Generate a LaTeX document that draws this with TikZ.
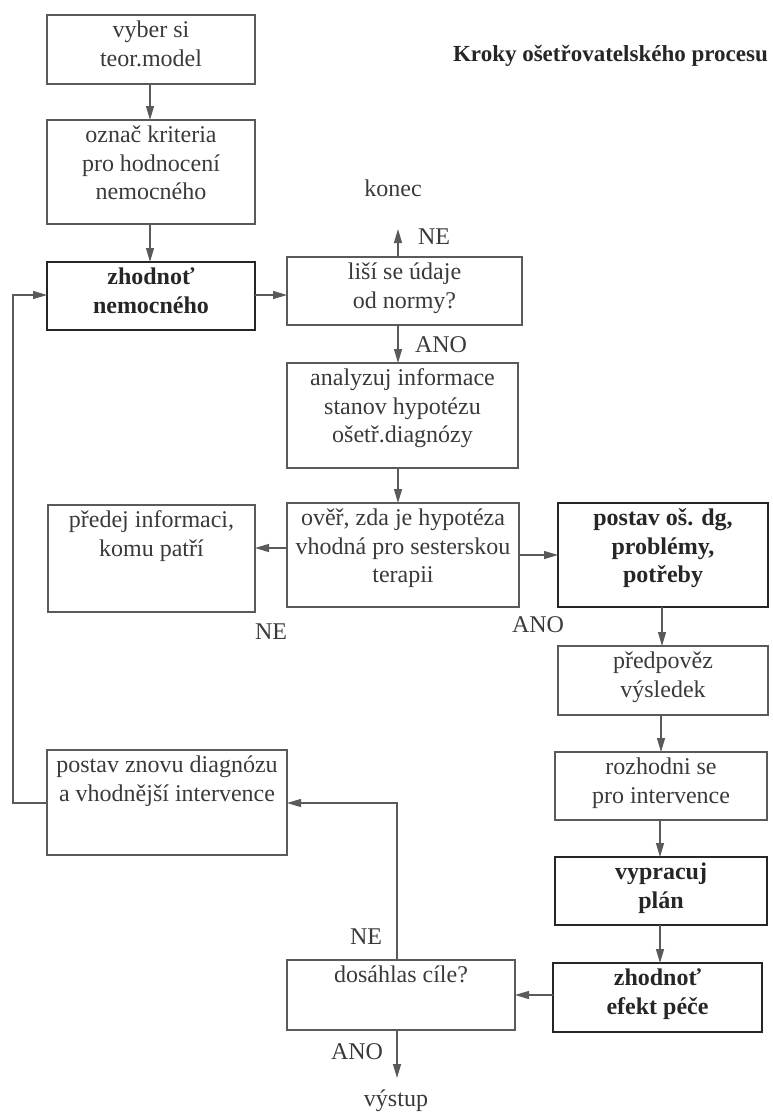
\documentclass[tikz,border=0pt]{standalone}
\usepackage{fontspec}
\setmainfont{Liberation Serif}
\usetikzlibrary{arrows.meta}
\definecolor{ink}{HTML}{3A3A3A}
\definecolor{frame}{HTML}{5A5A5A}
\tikzset{
  box/.style={draw=frame, line width=1.3pt, inner sep=0pt, outer sep=0pt, text=ink},
  boldbox/.style={draw=black!85, line width=2.6pt, inner sep=0pt, outer sep=0pt, text=black!85},
  flow/.style={draw=frame, line width=1.2pt, -{Triangle[length=14pt,width=8pt]}},
  lbl/.style={text=ink, inner sep=0pt}
}
% \bx{name}{x1}{y1}{x2}{y2}{style}{text}: box given by its corners, text at the top
\newcommand{\bx}[7]{%
  \pgfmathsetmacro{\bw}{#4-#2}\pgfmathsetmacro{\bh}{#5-#3}%
  \node[#6, anchor=north west, minimum width=\bw pt, minimum height=\bh pt] (#1) at (#2,#3)
    {\parbox[c][\bh pt][t]{\bw pt}{\vspace*{3pt}\centering\strut #7}};}
\begin{document}
\begin{tikzpicture}[x=1pt, y=-1pt, font=\fontsize{24}{28.5}\selectfont]
\useasboundingbox (0,0) rectangle (772,1117);

% boxes
\bx{b1}{47}{15}{255}{84}{box}{vyber si\\teor.model}
\bx{b2}{47}{120}{255}{224}{box}{označ kriteria\\pro hodnocení\\nemocného}
\bx{b3}{47}{262}{255}{330}{boldbox}{\bfseries zhodnoť\\nemocného}
\bx{b4}{287}{257}{522}{325}{box}{liší se údaje\\od normy?}
\bx{b5}{287}{363}{518}{468}{box}{analyzuj informace\\stanov hypotézu\\ošetř.diagnózy}
\bx{b6}{287}{503}{519}{607}{box}{ověř, zda je hypotéza\\vhodná pro sesterskou\\terapii}
\bx{b7}{48}{505}{255}{612}{box}{předej informaci,\\komu patří}
\bx{b8}{558}{503}{768}{607}{boldbox}{\bfseries postav oš. dg,\\problémy,\\potřeby}
\bx{b9}{558}{646}{768}{715}{box}{předpověz\\výsledek}
\bx{b10}{555}{752}{767}{820}{box}{rozhodni se\\pro intervence}
\bx{b11}{555}{857}{767}{925}{boldbox}{\bfseries vypracuj\\plán}
\bx{b12}{553}{963}{762}{1032}{boldbox}{\bfseries zhodnoť\\efekt péče}
\bx{b13}{287}{960}{515}{1030}{box}{dosáhlas cíle?}
\bx{b14}{47}{750}{287}{855}{box}{postav znovu diagnózu\\a vhodnější intervence}

% title and end texts
\node[lbl, anchor=east, font=\fontsize{23}{28}\selectfont\bfseries, text=black!85] (title) at (768,56) {Kroky ošetřovatelského procesu};
\node[lbl] (konec) at (393,188) {konec};
\node[lbl] (vystup) at (396,1101) {výstup};
\coordinate (kontip) at (398,229);
\coordinate (vyptip) at (397,1078);
\coordinate (loopA) at (13,803);
\coordinate (loopB) at (13,295);

% connectors
\draw[flow] (b1.south -| 150,0) -- (b2.north -| 150,0);
\draw[flow] (b2.south -| 150,0) -- (b3.north -| 150,0);
\draw[flow] (b3.east |- 0,295) -- (b4.west |- 0,295);
\draw[flow] (b4.north -| kontip) -- (kontip);
\draw[flow] (b4.south -| 398,0) -- (b5.north -| 398,0);
\draw[flow] (b5.south -| 398,0) -- (b6.north -| 398,0);
\draw[flow] (b6.west |- 0,548) -- (b7.east |- 0,548);
\draw[flow] (b6.east |- 0,555) -- (b8.west |- 0,555);
\draw[flow] (b8.south -| 662,0) -- (b9.north -| 662,0);
\draw[flow] (b9.south -| 661,0) -- (b10.north -| 661,0);
\draw[flow] (b10.south -| 660,0) -- (b11.north -| 660,0);
\draw[flow] (b11.south -| 660,0) -- (b12.north -| 660,0);
\draw[flow] (b12.west |- 0,995) -- (b13.east |- 0,995);
\draw[flow] (b13.north -| 397,0) -- (397,803) -- (b14.east |- 0,803);
\draw[flow] (b13.south -| vyptip) -- (vyptip);
\draw[flow] (b14.west |- loopA) -- (loopA) -- (loopB) -- (b3.west |- loopB);

% branch labels
\node[lbl] (ne1) at (434,237) {NE};
\node[lbl] (ano1) at (441,345) {ANO};
\node[lbl] (ne2) at (271,632) {NE};
\node[lbl] (ano2) at (538,625) {ANO};
\node[lbl] (ne3) at (366,937) {NE};
\node[lbl] (ano3) at (357,1052) {ANO};
\end{tikzpicture}
\end{document}
